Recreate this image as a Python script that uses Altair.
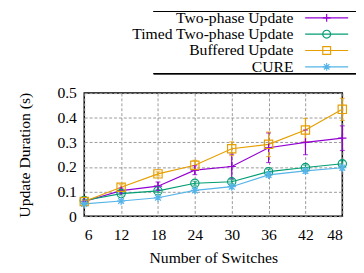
import altair as alt
import pandas as pd

switches = [6, 12, 18, 24, 30, 36, 42, 48]
series = ["Two-phase Update", "Timed Two-phase Update", "Buffered Update", "CURE"]
colors = ["#9400d3", "#009e73", "#e69f00", "#56b4e9"]
shapes = [
    "M-1,0L1,0M0,-1L0,1",
    "circle",
    "square",
    "M-1,0L1,0M0,-1L0,1M-0.7,-0.7L0.7,0.7M-0.7,0.7L0.7,-0.7",
]

two_phase = [0.060, 0.104, 0.122, 0.187, 0.202, 0.278, 0.300, 0.317]
two_phase_err = [0.005, 0.010, 0.017, 0.018, 0.050, 0.060, 0.050, 0.050]
timed = [0.064, 0.092, 0.103, 0.134, 0.140, 0.181, 0.198, 0.213]
timed_err = [0.005, 0.006, 0.006, 0.008, 0.008, 0.010, 0.010, 0.012]
buffered = [0.060, 0.118, 0.172, 0.207, 0.274, 0.292, 0.350, 0.434]
buffered_err = [0.005, 0.010, 0.008, 0.020, 0.028, 0.050, 0.047, 0.045]
cure = [0.050, 0.062, 0.075, 0.105, 0.120, 0.168, 0.184, 0.197]
cure_err = [0.004, 0.005, 0.006, 0.008, 0.008, 0.010, 0.010, 0.010]

x_ticks = [6, 12, 18, 24, 30, 36, 42, 48]
y_ticks = [0, 0.1, 0.2, 0.3, 0.4, 0.5]

FONT = "Liberation Serif"

rows = []
for name, vals, errs in [
    (series[0], two_phase, two_phase_err),
    (series[1], timed, timed_err),
    (series[2], buffered, buffered_err),
    (series[3], cure, cure_err),
]:
    for s, v, e in zip(switches, vals, errs):
        rows.append({"switches": s, "series": name, "mean": v, "lo": v - e, "hi": v + e})
df = pd.DataFrame(rows)

xs = alt.Scale(domain=[6, 48], nice=False, zero=False)
ys = alt.Scale(domain=[0, 0.5], nice=False)
cs = alt.Scale(domain=series, range=colors)
ss = alt.Scale(domain=series, range=shapes)

x_axis = alt.Axis(values=x_ticks, labelPadding=11, titlePadding=7, labelOverlap=False)
y_axis = alt.Axis(values=y_ticks, format=".1~f", labelPadding=8, titlePadding=25,
                  labelOverlap=False, labelBound=False)
X = alt.X("switches:Q", scale=xs, title="Number of Switches", axis=x_axis)
Y = alt.Y("mean:Q", scale=ys, title="Update Duration (s)", axis=y_axis)
YLO = alt.Y("lo:Q", scale=ys, title="Update Duration (s)", axis=y_axis)
YHI = alt.Y("hi:Q", scale=ys, title="Update Duration (s)", axis=y_axis)
C = alt.Color("series:N", scale=cs, legend=None)

base = alt.Chart(df)
lines = base.mark_line(strokeWidth=1.2).encode(x=X, y=Y, color=C)
bars = base.mark_rule(strokeWidth=1.2).encode(x=X, y=YLO, y2="hi:Q", color=C)
cap_lo = base.mark_tick(orient="horizontal", size=5, thickness=1.2).encode(x=X, y=YLO, color=C)
cap_hi = base.mark_tick(orient="horizontal", size=5, thickness=1.2).encode(x=X, y=YHI, color=C)
points = base.mark_point(filled=False, size=72, strokeWidth=1.2, opacity=1).encode(
    x=X, y=Y, color=C, shape=alt.Shape("series:N", scale=ss, legend=None))

main = alt.layer(lines, bars, cap_lo, cap_hi, points)

# legend (gnuplot style: label right-aligned, sample on the right)
leg = pd.DataFrame({"series": series, "color": colors, "shape": shapes, "i": [0, 1, 2, 3]})
lbase = alt.Chart(leg).transform_calculate(ly="-77 + 16.7 * datum.i")
LY = alt.Y("ly:Q", scale=None, axis=None)
ltext = lbase.mark_text(align="right", baseline="middle", font=FONT, fontSize=16, color="black").encode(
    x=alt.value(214), y=LY, text="series:N")
lline = lbase.mark_rule(strokeWidth=1.2).encode(
    x=alt.value(226), x2=alt.value(270), y=LY, color=alt.Color("color:N", scale=None))
lpt = lbase.mark_point(filled=False, size=64, strokeWidth=1.2, opacity=1).encode(
    x=alt.value(248), y=LY, color=alt.Color("color:N", scale=None), shape=alt.Shape("shape:N", scale=None))
box_top = alt.Chart(leg).mark_rule(color="black", strokeWidth=1.2).encode(
    x=alt.value(71), x2=alt.value(280), y=alt.value(-83.5))
box_bot = alt.Chart(leg).mark_rule(color="black", strokeWidth=1.2).encode(
    x=alt.value(71), x2=alt.value(280), y=alt.value(-20))
legend = alt.layer(ltext, lline, lpt, box_top, box_bot)

chart = alt.layer(main, legend).resolve_scale(
    x="independent", y="independent", color="independent", shape="independent"
).properties(
    width=264, height=126,
    autosize=alt.AutoSizeParams(type="none"),
    padding={"left": 78, "top": 84, "right": 14, "bottom": 55},
).configure_view(
    stroke="black", strokeWidth=1.5
).configure_axis(
    domain=False, ticks=False, labelOverlap=False,
    grid=True, gridColor="#999999", gridDash=[3, 2], gridWidth=1,
    labelFont=FONT, labelFontSize=16, labelColor="black",
    titleFont=FONT, titleFontSize=16, titleFontWeight="normal", titleColor="black",
)

chart.save("out.html", embed_options={"renderer": "svg", "actions": False})
